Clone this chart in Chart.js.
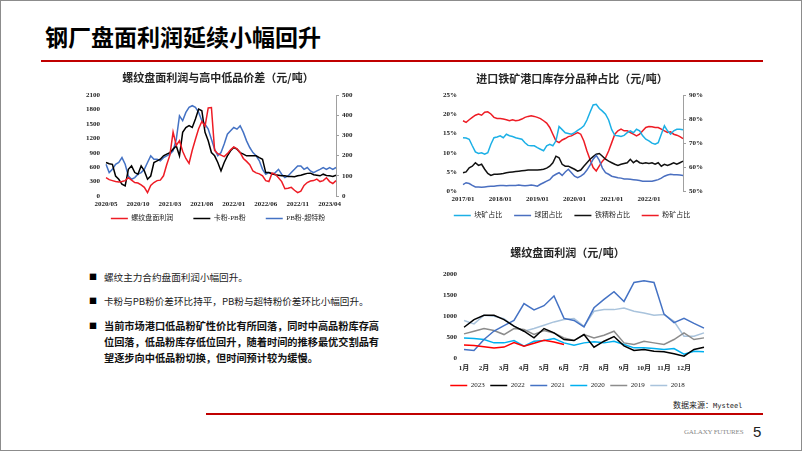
<!DOCTYPE html>
<html>
<head>
<meta charset="utf-8">
<script src="https://cdn.jsdelivr.net/npm/chart.js@4.4.0/dist/chart.umd.min.js"></script>
<style>
html, body { margin: 0; padding: 0; background: #fff; }
#page { position: relative; width: 800px; height: 449px; border: 1px solid #8c8c8c; overflow: hidden; font-family: 'Noto Sans CJK SC', sans-serif; color: #222; }
#head { position: absolute; left: 44px; top: 24px; font-size: 23px; line-height: 23px; font-weight: bold; color: #000; white-space: nowrap; }
.rule { position: absolute; background: #c00000; height: 2px; }
canvas { position: absolute; }
.bl { position: absolute; left: 88px; font-size: 8px; line-height: 10px; color: #000; }
.tx { position: absolute; left: 103px; font-size: 9.6px; line-height: 16px; white-space: nowrap; color: #222; }
.tx.b { font-weight: bold; font-size: 10.2px; color: #111; }
#src { position: absolute; left: 672px; top: 399px; font-size: 8px; line-height: 10px; color: #222; white-space: nowrap; }
#src span { font-family: 'DejaVu Sans Mono', monospace; font-size: 7px; }
#gf { position: absolute; left: 683px; top: 427px; font-family: 'Liberation Serif', serif; font-size: 7px; color: #888; letter-spacing: -0.2px; }
#pn { position: absolute; left: 752px; top: 423px; font-family: 'Liberation Sans', sans-serif; font-size: 15px; line-height: 16px; color: #222; }
</style>
</head>
<body>
<div id="page">
  <div id="head">钢厂盘面利润延续小幅回升</div>
  <div class="rule" style="left:40px; top:59px; width:722px;"></div>

  <canvas id="c1" width="302" height="165" style="left:66px; top:66px;"></canvas>
  <canvas id="c2" width="282" height="162" style="left:430px; top:66px;"></canvas>
  <canvas id="c3" width="280" height="157" style="left:430px; top:241px;"></canvas>

  <div class="bl" style="top:271px;">■</div>
  <div class="tx" style="top:268px;">螺纹主力合约盘面利润小幅回升。</div>
  <div class="bl" style="top:295px;">■</div>
  <div class="tx" style="top:292px;">卡粉与PB粉价差环比持平，PB粉与超特粉价差环比小幅回升。</div>
  <div class="bl" style="top:320px;">■</div>
  <div class="tx b" style="top:317px;">当前市场港口低品粉矿性价比有所回落，同时中高品粉库存高<br>位回落，低品粉库存低位回升，随着时间的推移最优交割品有<br>望逐步向中低品粉切换，但时间预计较为缓慢。</div>

  <div id="src">数据来源：<span>Mysteel</span></div>
  <div class="rule" style="left:205px; top:412px; width:557px;"></div>
  <div id="gf">GALAXY FUTURES</div>
  <div id="pn">5</div>
</div>

<script>
// ---- chart 1: 螺纹盘面利润与高中低品价差 (semi-monthly, 2020/05 - 2023/05)
const c1Months = ['2020/05','2020/06','2020/07','2020/08','2020/09','2020/10','2020/11','2020/12',
  '2021/01','2021/02','2021/03','2021/04','2021/05','2021/06','2021/07','2021/08','2021/09','2021/10','2021/11','2021/12',
  '2022/01','2022/02','2022/03','2022/04','2022/05','2022/06','2022/07','2022/08','2022/09','2022/10','2022/11','2022/12',
  '2023/01','2023/02','2023/03','2023/04','2023/05']
const rebarProfit = [380,340,320,300,290,300,320,380,330,280,
  270,230,180,70,220,280,320,330,420,650,
  850,1330,1050,1150,930,780,680,950,1180,1400,
  1550,1450,1830,1840,950,880,850,820,880,960,
  1020,980,900,780,720,650,520,480,460,420,
  320,300,480,450,380,300,150,160,180,120,
  70,100,220,280,310,320,350,300,320,380,
  300,260,320]
const kaPbSpread = [166,160,157,99,83,58,50,132,149,116,
  108,149,124,83,99,166,174,182,199,207,
  215,232,248,199,315,339,348,339,381,430,
  422,315,273,215,199,166,124,166,199,224,
  240,232,215,207,199,199,199,199,190,182,
  116,116,110,105,103,100,100,97,97,95,
  100,103,108,112,113,105,103,100,108,102,
  100,97,103]
const pbSuperSpread = [157,116,132,157,166,190,157,99,83,91,
  108,116,132,166,199,182,182,174,190,199,
  207,224,281,397,373,414,439,447,439,414,
  373,356,331,281,232,199,215,257,306,323,
  339,331,348,315,273,240,215,199,174,132,
  108,116,108,116,132,108,91,99,116,132,
  149,149,132,141,124,116,124,132,141,132,
  141,132,141]

// ---- chart 2: 进口铁矿港口库存分品种占比 (monthly, 2017/01 - 2022/12)
const c2Years = ['2017','2018','2019','2020','2021','2022']
const lumpShare = [13.9,13.8,13.5,11.8,10.2,9.8,10.0,9.6,10.0,12.2,13.9,14.1,
  14.4,13.9,14.8,14.4,14.2,13.9,13.7,13.5,12.6,11.9,11.8,11.8,
  11.3,10.9,10.5,11.8,12.2,11.8,13.1,16.8,16.0,15.2,15.0,14.8,
  15.2,15.8,16.3,17.0,18.5,20.5,22.4,22.6,21.5,20.8,20.0,18.5,
  16.0,14.5,14.4,14.2,14.5,15.2,15.7,15.2,16.1,15.7,14.4,13.5,
  13.1,12.5,12.2,12.6,14.8,17.0,15.7,14.8,15.7,16.1,16.1,16.0]
const pelletShare = [1.7,2.2,2.0,1.5,1.1,1.1,1.0,1.1,1.2,1.3,1.3,1.4,
  1.5,1.5,1.4,1.5,1.5,1.5,1.6,1.5,1.4,1.5,1.6,1.5,
  1.3,1.8,2.2,2.6,3.0,3.9,4.4,4.8,4.1,5.0,5.7,4.8,
  3.9,3.5,3.9,4.5,5.5,6.8,8.3,9.3,8.0,6.0,4.8,4.4,
  3.9,3.7,3.5,3.4,3.2,3.2,3.1,3.0,2.9,2.8,2.6,2.6,
  2.6,2.6,2.8,3.0,3.4,3.9,4.2,4.4,4.3,4.3,4.2,4.1]
const concShare = [4.8,5.0,6.1,6.5,7.4,6.7,7.0,5.7,4.6,4.1,4.4,4.4,
  4.5,4.6,4.8,4.9,5.0,5.1,5.2,5.3,5.4,5.5,5.5,5.5,
  5.5,5.6,5.7,6.0,6.5,7.4,9.1,8.7,7.0,6.5,6.5,6.1,
  5.7,5.2,5.5,6.5,7.4,8.3,9.0,9.6,9.8,9.1,8.3,7.8,
  7.4,7.0,6.7,7.0,7.2,7.4,8.3,7.4,8.0,7.4,7.2,7.4,
  7.2,7.4,7.0,7.4,6.5,7.0,6.7,7.0,7.4,7.0,7.4,7.8]
const fineShare = [79.3,78.6,79.7,80.7,81.6,82.1,81.6,82.8,83.0,82.1,80.7,80.2,
  80.2,80.0,79.7,79.3,79.7,79.3,79.5,80.0,80.7,81.1,81.4,81.1,
  80.7,80.2,79.3,78.3,76.5,73.7,70.9,70.2,71.3,71.9,72.7,73.0,
  73.7,74.4,73.7,70.9,66.7,63.2,59.8,58.4,60.5,62.5,63.9,66.7,
  70.2,73.7,75.1,75.8,75.1,75.1,74.4,73.7,73.0,73.7,75.1,76.5,
  76.9,76.8,76.5,76.5,75.8,75.1,74.4,74.7,73.7,73.3,72.7,71.9]

// ---- chart 3: 螺纹盘面利润 by year (semi-monthly, 1月 - 12月)
const c3Months = ['1月','2月','3月','4月','5月','6月','7月','8月','9月','10月','11月','12月']
const profit2023 = [320,310,280,250,270,380,290,360,430,390,330]
const profit2022 = [740,921,1024,1024,921,764,646,488,709,606,449,425,567,268,409,520,300,190,213,173,157,110,55,213,268]
const profit2021 = [213,189,450,650,780,900,1300,1150,1250,1480,950,900,750,1200,1400,1580,1350,1800,1840,1800,1050,850,950,830,720]
const profit2020 = [488,472,449,370,370,425,291,409,425,472,370,315,370,394,370,409,331,252,252,236,213,236,100,173,157]
const profit2019 = [583,646,709,661,567,709,685,567,661,606,488,425,567,488,551,646,370,331,409,370,331,449,606,449,488]
const profit2018 = [898,819,1024,1000,945,764,646,709,787,866,921,945,764,1118,1157,1157,1197,1118,1079,1024,1039,882,528,528,606]

const serifCJK = "'Liberation Serif', 'Noto Sans CJK SC', serif"
Chart.defaults.font.family = serifCJK
Chart.defaults.color = '#222'
const tickFont = { family: serifCJK, size: 7, weight: 'bold' }
const legendFont = { family: serifCJK, size: 7 }
const titleFont = { family: "'Noto Sans CJK SC', sans-serif", size: 11, weight: 'bold' }

// category labels: half-month steps for charts 1 and 3, months for chart 2
const c1Labels = []
c1Months.forEach((m, i) => { c1Labels.push(m); if (i < c1Months.length - 1) c1Labels.push(m + '下') })
const c2Labels = []
c2Years.forEach(y => { for (let m = 1; m <= 12; m++) c2Labels.push(y + '/' + String(m).padStart(2, '0')) })
const c3Labels = []
c3Months.forEach(m => { c3Labels.push(m); c3Labels.push(m + '下') })
c3Labels.push('年末')

function line(label, data, color, axis) {
  return { label, data, borderColor: color, backgroundColor: color, yAxisID: axis || 'y',
    borderWidth: 1.5, pointRadius: 0, tension: 0 }
}

function legendOpts(pad) {
  return { position: 'bottom', labels: { usePointStyle: true, pointStyle: 'line', pointStyleWidth: 17,
    padding: pad, font: legendFont, color: '#222' } }
}

const common = { responsive: false, animation: false, devicePixelRatio: 1, events: [] }
const plain = v => String(v)
const noGrid = { display: false, drawTicks: false }
const rightGrid = { drawOnChartArea: false, drawTicks: true, tickLength: 3, color: '#a0a0a0' }

new Chart(document.getElementById('c1'), {
  type: 'line',
  data: {
    labels: c1Labels,
    datasets: [
      line('螺纹盘面利润\u3000\u3000', rebarProfit, '#ee1c25'),
      line('卡粉-PB粉\u3000\u3000', kaPbSpread, '#000000', 'y2'),
      line('PB粉-超特粉', pbSuperSpread, '#4472c4', 'y2')
    ]
  },
  options: {
    ...common,
    plugins: {
      title: { display: true, text: '螺纹盘面利润与高中低品价差（元/吨）', font: titleFont, color: '#262626', padding: { top: 4.4, bottom: 10.4 } },
      legend: legendOpts(6),
      tooltip: { enabled: false }
    },
    scales: {
      x: { grid: noGrid, border: { display: false },
        ticks: { autoSkip: false, maxRotation: 0, padding: 4, font: tickFont, color: '#222',
          callback: (v, i) => i % 10 === 0 ? c1Labels[i] : null },
        afterFit: s => { s.height = 13 } },
      y: { position: 'left', min: 0, max: 2100, grid: noGrid, border: { display: false },
        ticks: { stepSize: 300, padding: 6, font: tickFont, color: '#222', callback: plain },
        afterFit: s => { s.width = 39 } },
      y2: { position: 'right', min: 0, max: 500, grid: rightGrid, border: { display: true, color: '#a0a0a0' },
        ticks: { stepSize: 100, padding: 3, font: tickFont, color: '#222', callback: plain },
        afterFit: s => { s.width = 33 } }
    }
  }
})

new Chart(document.getElementById('c2'), {
  type: 'line',
  data: {
    labels: c2Labels,
    datasets: [
      line('块矿占比\u2002', lumpShare, '#1cb0e6'),
      line('球团占比\u2002', pelletShare, '#4a6fc0'),
      line('铁精粉占比\u2002', concShare, '#111111'),
      line('粉矿占比', fineShare, '#ee1c25', 'y2')
    ]
  },
  options: {
    ...common,
    plugins: {
      title: { display: true, text: '进口铁矿港口库存分品种占比（元/吨）', font: titleFont, color: '#262626', padding: { top: 5.4, bottom: 9.4 } },
      legend: legendOpts(8.3),
      tooltip: { enabled: false }
    },
    scales: {
      x: { grid: noGrid, border: { display: false },
        ticks: { autoSkip: false, maxRotation: 0, padding: 3.8, font: tickFont, color: '#222',
          callback: (v, i) => i % 12 === 0 ? c2Labels[i] : null },
        afterFit: s => { s.height = 12.5 } },
      y: { position: 'left', min: 0, max: 25, grid: noGrid, border: { display: false },
        ticks: { stepSize: 5, padding: 6, font: tickFont, color: '#222', callback: v => v + '%' },
        afterFit: s => { s.width = 32 } },
      y2: { position: 'right', min: 50, max: 90, grid: rightGrid, border: { display: true, color: '#a0a0a0' },
        ticks: { stepSize: 10, padding: 3, font: tickFont, color: '#222', callback: v => v + '%' },
        afterFit: s => { s.width = 30 } }
    }
  }
})

new Chart(document.getElementById('c3'), {
  type: 'line',
  data: {
    labels: c3Labels,
    datasets: [
      line('2023', profit2023, '#ff0000'),
      line('2022', profit2022, '#000000'),
      line('2021', profit2021, '#4472c4'),
      line('2020', profit2020, '#00b0f0'),
      line('2019', profit2019, '#8c8c8c'),
      line('2018', profit2018, '#a9c3dc')
    ]
  },
  options: {
    ...common,
    layout: { padding: { right: 7 } },
    plugins: {
      title: { display: true, text: '螺纹盘面利润（元/吨）', font: titleFont, color: '#262626', padding: { top: 4.4, bottom: 14.4 } },
      legend: legendOpts(5.5),
      tooltip: { enabled: false }
    },
    scales: {
      x: { grid: noGrid, border: { display: false },
        ticks: { autoSkip: false, maxRotation: 0, padding: 5.8, font: tickFont, color: '#222',
          callback: (v, i) => i % 2 === 0 && i < 24 ? c3Months[i / 2] : null },
        afterFit: s => { s.height = 18 } },
      y: { position: 'left', min: 0, max: 2000, grid: noGrid, border: { display: false },
        ticks: { stepSize: 500, padding: 7, font: tickFont, color: '#222', callback: plain },
        afterFit: s => { s.width = 33 } }
    }
  }
})
</script>
</body>
</html>
